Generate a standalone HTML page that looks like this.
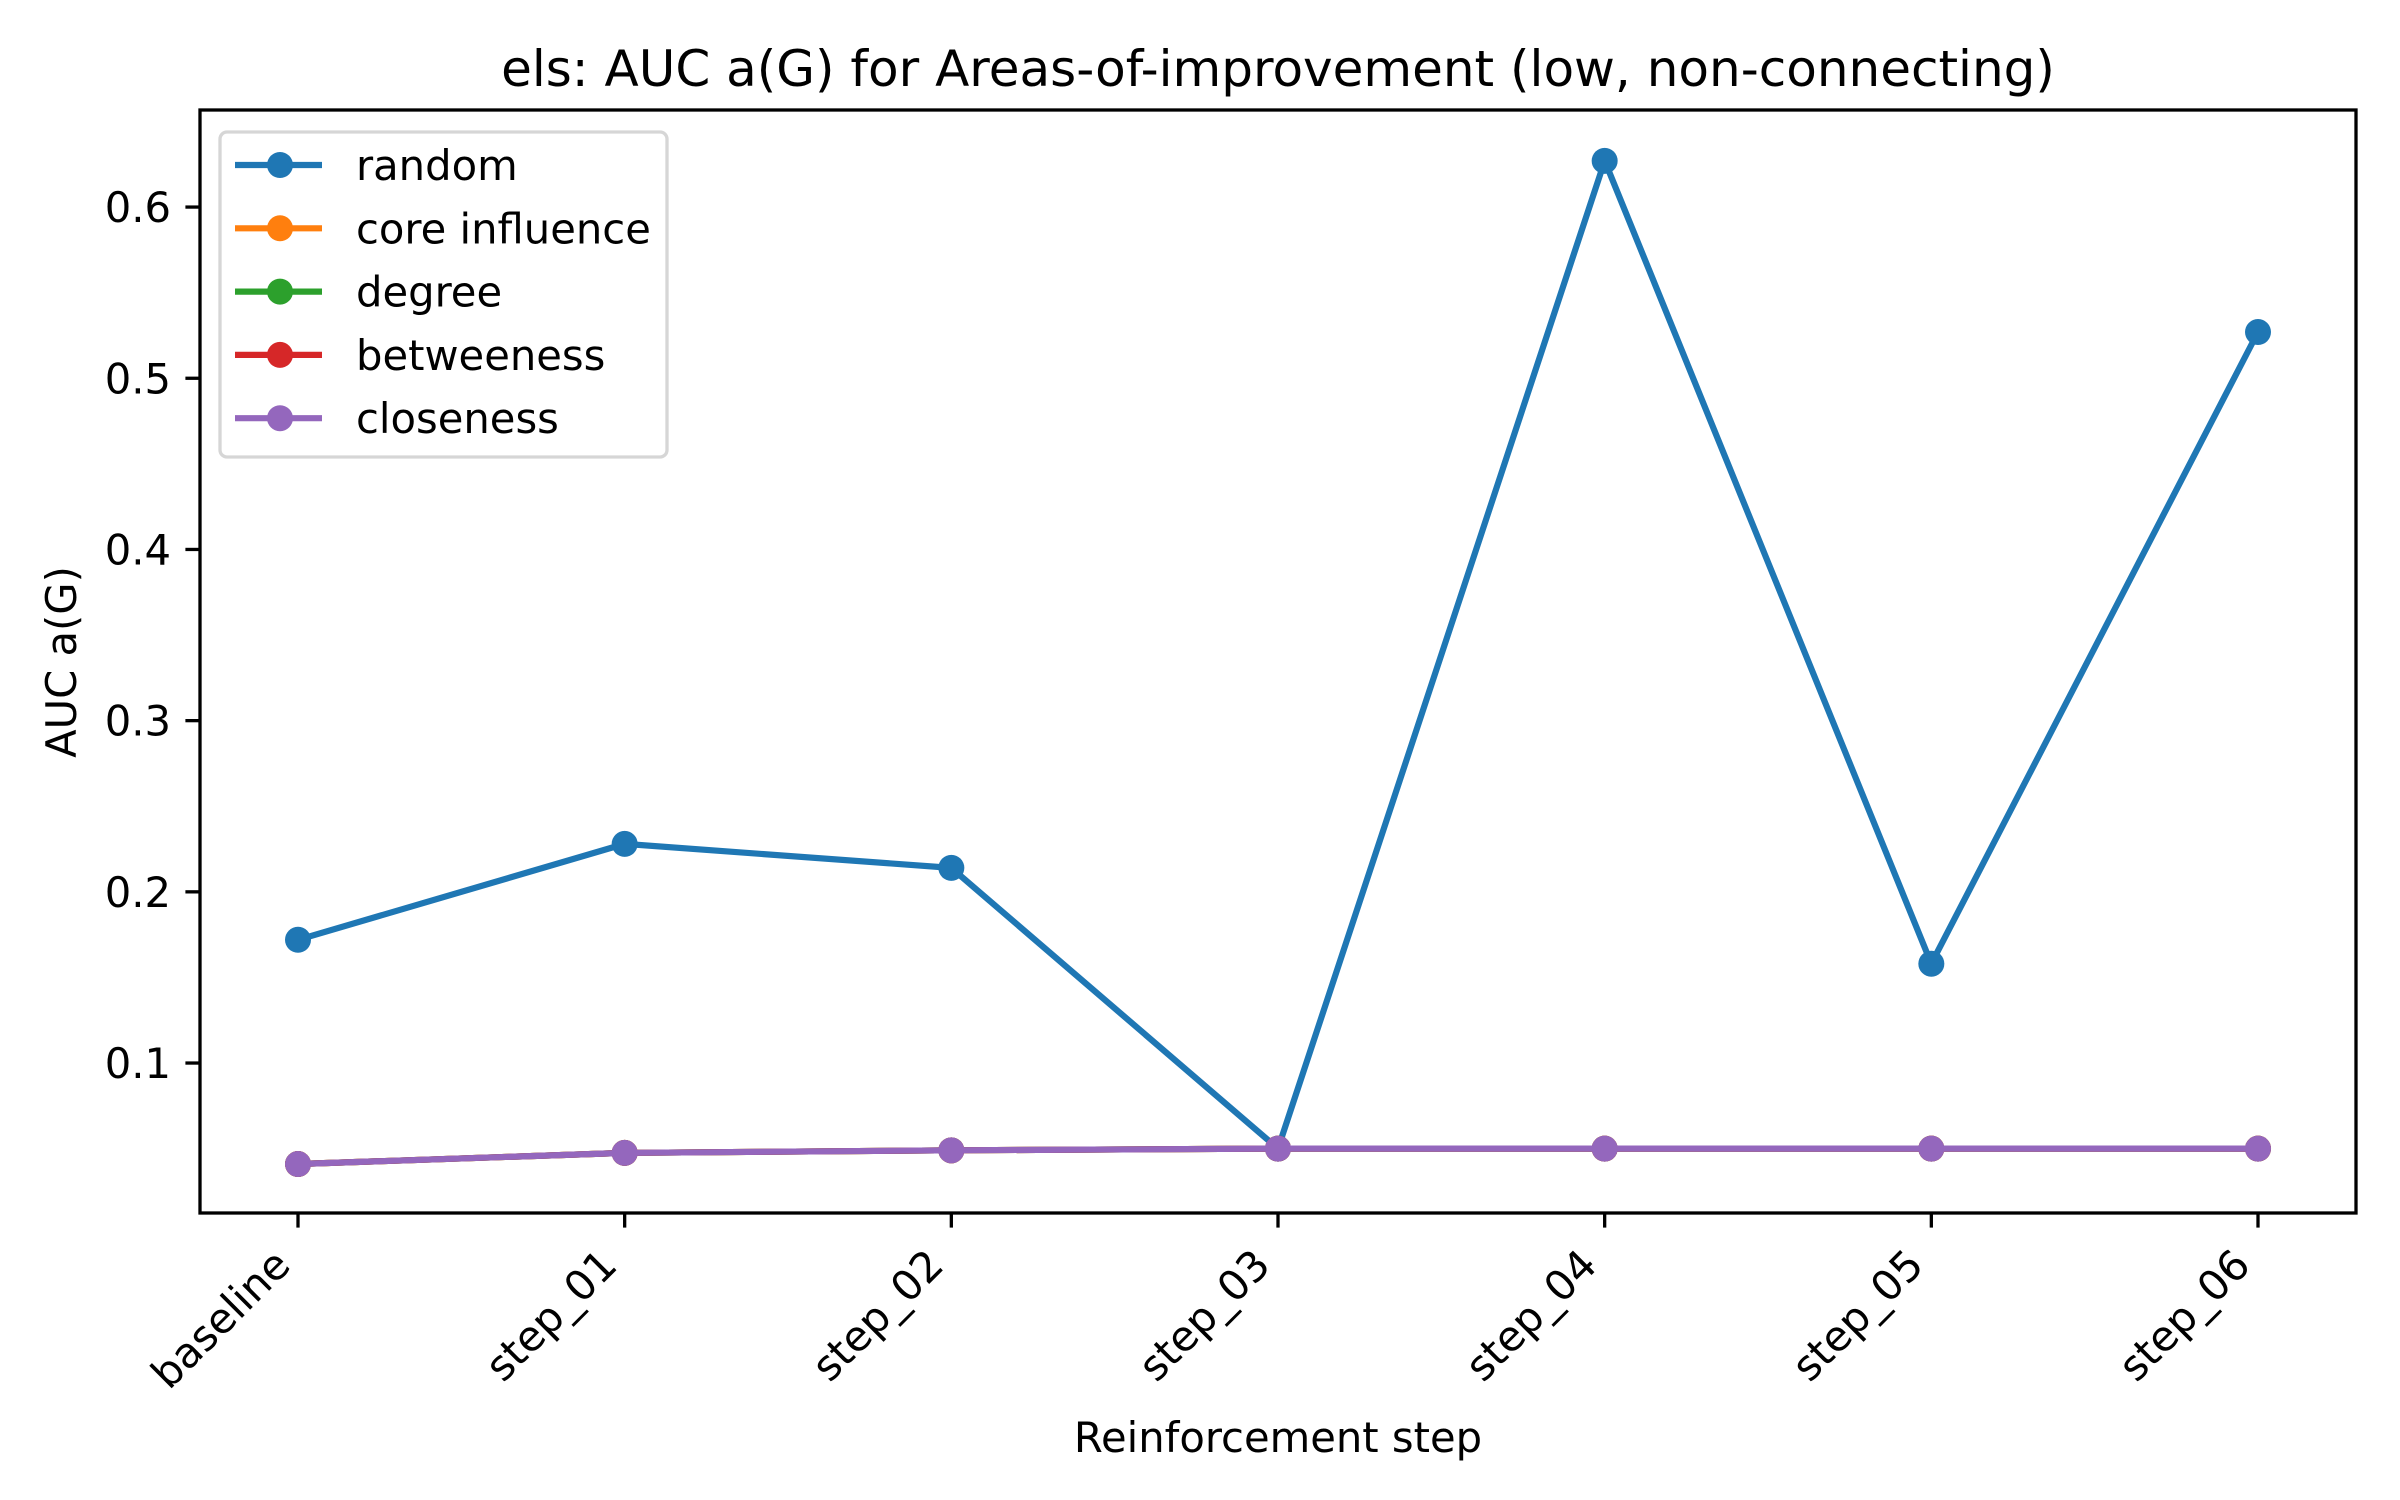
<!DOCTYPE html>
<html><head><meta charset="utf-8"><style>
html,body{margin:0;padding:0;background:#fff;}
svg{display:block;font-family:"DejaVu Sans","Liberation Sans",sans-serif;}
</style></head><body>
<svg id="chart" width="2400" height="1500" viewBox="0 0 2400 1500">
<rect width="2400" height="1500" fill="#fff"/>
<g id="plot"></g>
</svg>
<script>
const categories = ["baseline","step_01","step_02","step_03","step_04","step_05","step_06"];
const seriesNames = ["random","core influence","degree","betweeness","closeness"];
const randomVals = [0.172,0.228,0.214,0.050,0.627,0.158,0.527];
const coreVals = [0.041,0.0475,0.049,0.050,0.050,0.050,0.050];
const degreeVals = [0.041,0.0475,0.049,0.050,0.050,0.050,0.050];
const betweenVals = [0.041,0.0475,0.049,0.050,0.050,0.050,0.050];
const closeVals = [0.041,0.0475,0.049,0.050,0.050,0.050,0.050];
const yTicks = [0.1,0.2,0.3,0.4,0.5,0.6];
const yTickLabels = ["0.1","0.2","0.3","0.4","0.5","0.6"];

const NS="http://www.w3.org/2000/svg";
const L=200,R=2356,T=110,B=1213;
const xMin=-0.3,xMax=6.3,yMin=0.0124,yMax=0.6567;
const xs=i=>L+(i-xMin)/(xMax-xMin)*(R-L);
const ys=v=>B-(v-yMin)/(yMax-yMin)*(B-T);
const colors=["#1f77b4","#ff7f0e","#2ca02c","#d62728","#9467bd"];
const allVals=[randomVals,coreVals,degreeVals,betweenVals,closeVals];
const g=document.getElementById('plot');
function mk(tag,attrs,parent){const e=document.createElementNS(NS,tag);for(const k in attrs)e.setAttribute(k,attrs[k]);(parent||g).appendChild(e);return e;}

let t=mk('text',{x:1278,y:86,'font-size':50,'text-anchor':'middle',fill:'#000'});
t.textContent="els: AUC a(G) for Areas-of-improvement (low, non-connecting)";



allVals.forEach((vals,si)=>{
  const sg=mk('g',{});
  
  
  const pts=vals.map((v,i)=>xs(i).toFixed(1)+','+ys(v).toFixed(1)).join(' ');
  const pl=mk('polyline',{points:pts,fill:'none',stroke:colors[si],'stroke-width':6.2,'stroke-linejoin':'round','stroke-linecap':'square'},sg);
  
  
  vals.forEach((v,i)=>{
    const c=mk('circle',{cx:xs(i),cy:ys(v),r:13,fill:colors[si]},sg);
    
    
  });
});

const fr=mk('rect',{x:L,y:T,width:R-L,height:B-T,fill:'none',stroke:'#000','stroke-width':3.3});



categories.forEach((c,i)=>{
  const x=xs(i);
  const tk=mk('line',{x1:x,y1:B,x2:x,y2:B+14.6,stroke:'#000','stroke-width':3.3});
  
  
  const lb=mk('text',{x:0,y:0,'font-size':41.7,'text-anchor':'end',fill:'#000',dy:'0.76em',transform:'translate('+(x-28)+','+(B+32)+') rotate(-45)'});
  lb.textContent=c;
  
  
});
yTicks.forEach((v,i)=>{
  const y=ys(v);
  const tk=mk('line',{x1:L-14.6,y1:y,x2:L,y2:y,stroke:'#000','stroke-width':3.3});
  
  
  const lb=mk('text',{x:L-29,y:y+15,'font-size':41.7,'text-anchor':'end',fill:'#000'});
  lb.textContent=yTickLabels[i];
  
  
});
let xl=mk('text',{x:1278,y:1452,'font-size':41.7,'text-anchor':'middle',fill:'#000'});
xl.textContent="Reinforcement step";


let yl=mk('text',{x:0,y:0,'font-size':41.7,'text-anchor':'middle',fill:'#000',transform:'translate(76,662) rotate(-90)'});
yl.textContent="AUC a(G)";



const lg=mk('g',{});


mk('rect',{x:220,y:132,width:447,height:325,rx:7,fill:'#fff','fill-opacity':0.8,stroke:'#d6d6d6','stroke-width':3.3},lg);
seriesNames.forEach((n,i)=>{
  const y=165+i*63.3;
  const eg=mk('g',{},lg);
  
  
  mk('line',{x1:235,y1:y,x2:322,y2:y,stroke:colors[i],'stroke-width':6.2},eg);
  mk('circle',{cx:280,cy:y,r:13,fill:colors[i]},eg);
  const tx=mk('text',{x:356,y:y+15,'font-size':41.7,fill:'#000'},eg);
  tx.textContent=n;
});
</script>
</body></html>
